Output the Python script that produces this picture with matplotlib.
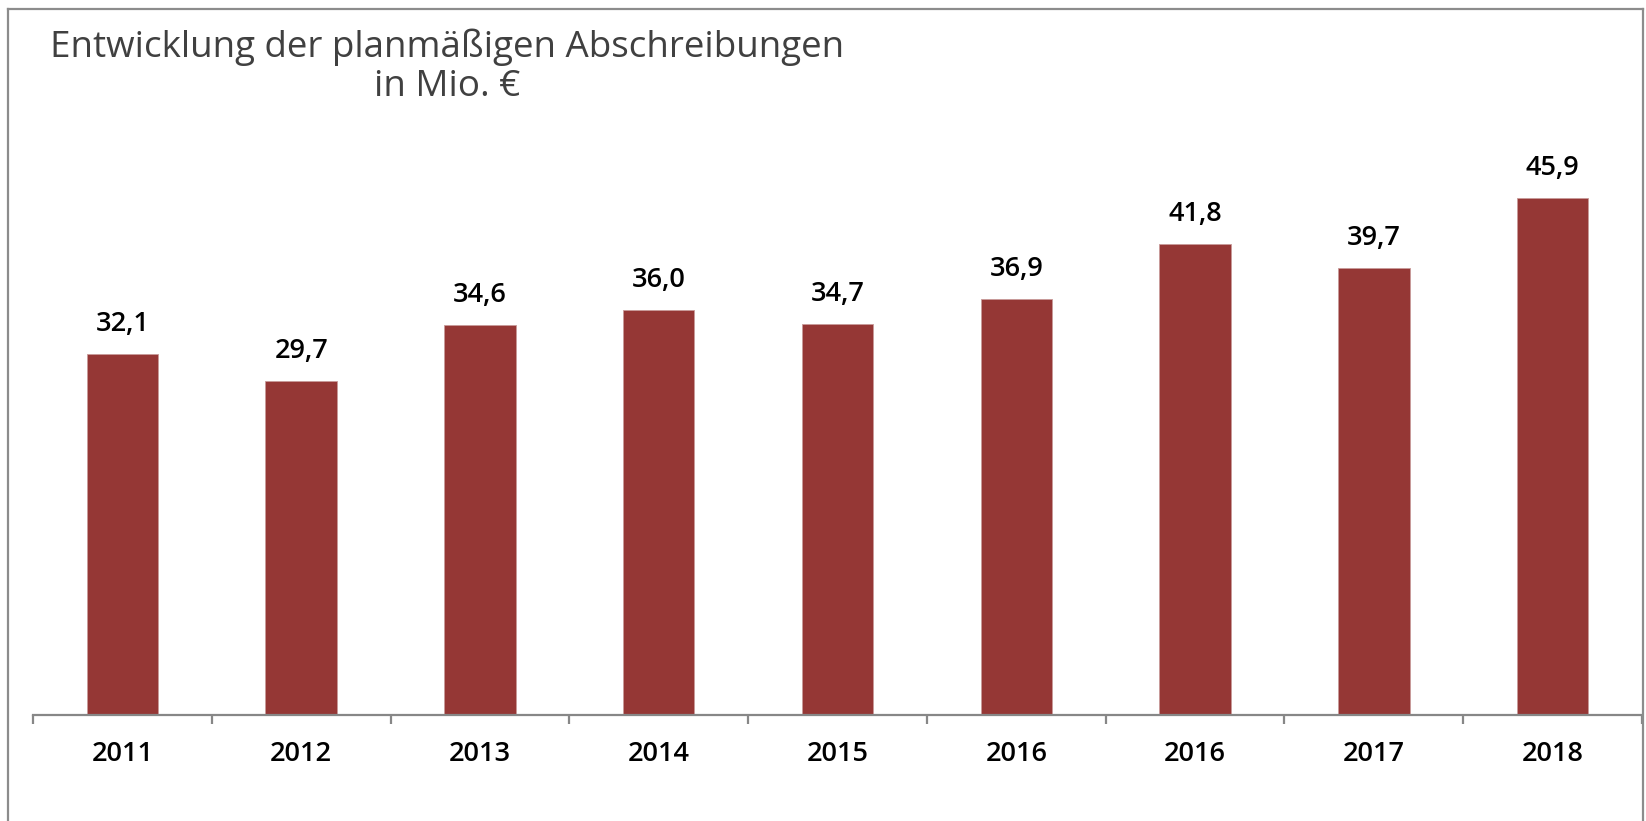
import matplotlib
matplotlib.use("Agg")
import matplotlib.pyplot as plt
from matplotlib.lines import Line2D
import numpy as np

categories = ["2011", "2012", "2013", "2014", "2015", "2016", "2016", "2017", "2018"]
values = [32.1, 29.7, 34.6, 36.0, 34.7, 36.9, 41.8, 39.7, 45.9]
value_labels = ["32,1", "29,7", "34,6", "36,0", "34,7", "36,9", "41,8", "39,7", "45,9"]
title_text = "Entwicklung der planmäßigen Abschreibungen\nin Mio. €"

W, H = 1646, 821
fig = plt.figure(figsize=(W / 100, H / 100), dpi=100)
fig.patch.set_facecolor("white")

ax_left, ax_right = 33, 1642
ax_bottom, ax_top = 715, 140
ax = fig.add_axes([ax_left / W, 1 - ax_bottom / H, (ax_right - ax_left) / W, (ax_bottom - ax_top) / H])

x = np.arange(len(categories))
bar_color = "#953735"
ax.bar(x, values, width=0.40, color=bar_color, edgecolor="#c89a99", linewidth=0.6, zorder=2)

ax.set_xlim(-0.5, len(categories) - 0.5)
ax.set_ylim(0, 51.06)

for sp in ["top", "right", "left"]:
    ax.spines[sp].set_visible(False)
ax.spines["bottom"].set_color("#878787")
ax.spines["bottom"].set_linewidth(1.6)
ax.set_yticks([])

label_font = ["Open Sans", "DejaVu Sans"]

ax.set_xticks(np.arange(-0.5, len(categories), 1.0))
ax.set_xticklabels([])
ax.tick_params(axis="x", which="major", direction="out", length=6.5, width=1.6, color="#878787")
ax.set_xticks(x, minor=True)
ax.set_xticklabels(categories, minor=True, fontsize=19.5, color="black", family=label_font,
                   fontweight="semibold")
ax.tick_params(axis="x", which="minor", length=0, pad=18)

for xi, v, lab in zip(x, values, value_labels):
    ax.annotate(lab, xy=(xi, v), xytext=(0, 21.6), textcoords="offset points",
                ha="center", va="center", fontsize=19.5, color="black", family=label_font,
                fontweight="semibold")

fig.text(447 / W, 1 - 67 / H, title_text, ha="center", va="center", multialignment="center",
         fontsize=26.5, color="#404040", family=["Open Sans", "DejaVu Sans"],
         linespacing=1.1)

# outer frame (left, top, right)
fc = "#8c8c8c"
fig.add_artist(Line2D([8 / W, 8 / W], [0, 1 - 9 / H], transform=fig.transFigure, color=fc, lw=1.6))
fig.add_artist(Line2D([8 / W, 1643 / W], [1 - 9 / H, 1 - 9 / H], transform=fig.transFigure, color=fc, lw=1.6))
fig.add_artist(Line2D([1643 / W, 1643 / W], [0, 1 - 9 / H], transform=fig.transFigure, color=fc, lw=1.6))

fig.savefig("out.png", dpi=100)
